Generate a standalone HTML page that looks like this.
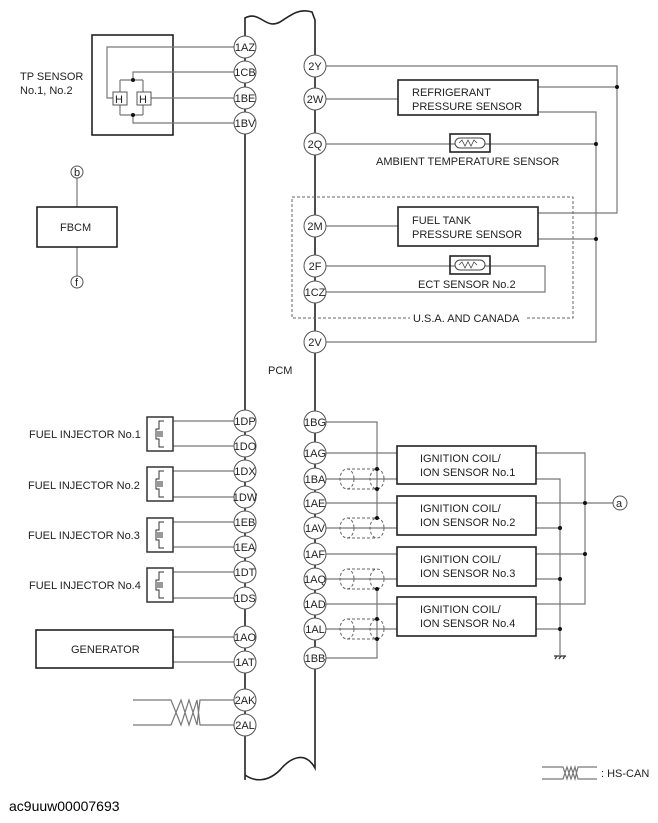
<!DOCTYPE html>
<html><head><meta charset="utf-8"><style>
body{margin:0;background:#fff}
svg{display:block}
text{font-family:"Liberation Sans",Arial,sans-serif;font-size:11px;fill:#222}
.c{fill:#fff;stroke:#555;stroke-width:1}
.ct{font-size:10.5px;text-anchor:middle}
.w{stroke:#777;stroke-width:1.2;fill:none}
.b{stroke:#222;stroke-width:1.6;fill:none}
.d{fill:#111}
</style></head><body>
<svg width="658" height="823" viewBox="0 0 658 823" xmlns="http://www.w3.org/2000/svg">
<!-- PCM buses -->
<path class="b" d="M245,780 L245,18 C260,10 265,30 280,22 C292,14 300,8 312,12 L315,20 L315,768 C305,750 290,758 280,770 C268,782 255,782 245,775"/>
<!-- TP sensor -->
<rect class="b" x="92" y="35" width="81" height="100"/>
<path class="w" d="M234,47 H107 V98 H113 M234,72 H133 V80 M234,98 H150 M234,123 H133 V115 M120,80 H143 M120,115 H143 M120,80 V93 M143,80 V93 M120,105 V115 M143,105 V115"/>
<rect x="113" y="92" width="14" height="13" fill="#fff" stroke="#555"/><text x="115" y="103">H</text>
<rect x="137" y="92" width="14" height="13" fill="#fff" stroke="#555"/><text x="139" y="103">H</text>
<circle class="d" cx="133" cy="80" r="2"/><circle class="d" cx="133" cy="115" r="2"/>
<text x="20" y="80">TP SENSOR</text><text x="20" y="94">No.1, No.2</text>
<!-- FBCM -->
<path class="w" d="M77,178 V207 M77,247 V276"/>
<rect class="b" x="37" y="207" width="80" height="40"/><text x="60" y="231">FBCM</text>
<circle class="c" cx="77" cy="172" r="6"/><text x="74" y="176" font-size="9">b</text>
<circle class="c" cx="77" cy="282" r="6"/><text x="75" y="286" font-size="9">f</text>
<!-- right top wiring -->
<path class="w" d="M326,66 H617 V213 H538 M538,87 H617 M538,112 H596 V342 H326 M326,99 H398 M326,144 H596 M538,239 H596 M326,226 H398 M326,266 H545 V292 H326"/>
<circle class="d" cx="617" cy="87" r="2"/><circle class="d" cx="596" cy="144" r="2"/><circle class="d" cx="596" cy="239" r="2"/>
<rect class="b" x="398" y="80" width="140" height="35" fill="#fff"/>
<text x="412" y="96">REFRIGERANT</text><text x="412" y="110">PRESSURE SENSOR</text>
<rect class="b" x="450" y="134" width="40" height="18" fill="#fff"/><rect x="455" y="138" width="30" height="10" rx="5" fill="#fff" stroke="#444"/>
<path d="M459,143 l3,-3 3,6 3,-6 3,6 3,-6 3,3" stroke="#444" fill="none" stroke-width=".8"/>
<text x="376" y="165">AMBIENT TEMPERATURE SENSOR</text>
<path d="M527,318 H573 V197 H292 V318 H410" stroke="#666" stroke-dasharray="3,2" fill="none"/>
<text x="413" y="322">U.S.A. AND CANADA</text>
<rect class="b" x="398" y="207" width="140" height="39" fill="#fff"/>
<text x="412" y="224">FUEL TANK</text><text x="412" y="238">PRESSURE SENSOR</text>
<rect class="b" x="450" y="256" width="40" height="18" fill="#fff"/><rect x="455" y="260" width="30" height="10" rx="5" fill="#fff" stroke="#444"/>
<path d="M459,265 l3,-3 3,6 3,-6 3,6 3,-6 3,3" stroke="#444" fill="none" stroke-width=".8"/>
<text x="418" y="288">ECT SENSOR No.2</text>
<text x="268" y="374">PCM</text>
<!-- ignition -->
<path class="w" d="M326,422 H377 V518 M326,453 H397 M326,479 H397 M326,503 H397 M326,528 H397 M326,554 H397 M326,579 H397 M326,604 H397 M326,629 H397 M326,658 H377 V589
M536,453 H585 V604 H536 M536,479 H560 V655 M536,503 H614 M536,528 H560 M536,554 H585 M536,579 H560 M536,629 H560"/>
<path d="M554,656 H566 M555,659 l2,-3 M559,659 l2,-3 M563,659 l2,-3" stroke="#333" stroke-width="1.2"/>
<g stroke="#666" fill="none" stroke-dasharray="3,2">
<ellipse cx="347" cy="479" rx="7" ry="10"/><ellipse cx="377" cy="479" rx="7" ry="10"/><path d="M347,469 H377 M347,489 H377"/>
<ellipse cx="347" cy="528" rx="7" ry="10"/><ellipse cx="377" cy="528" rx="7" ry="10"/><path d="M347,518 H377 M347,538 H377"/>
<ellipse cx="347" cy="579" rx="7" ry="10"/><ellipse cx="377" cy="579" rx="7" ry="10"/><path d="M347,569 H377 M347,589 H377"/>
<ellipse cx="347" cy="629" rx="7" ry="10"/><ellipse cx="377" cy="629" rx="7" ry="10"/><path d="M347,619 H377 M347,639 H377"/>
</g>
<g class="d"><circle cx="377" cy="469" r="2"/><circle cx="377" cy="489" r="2"/><circle cx="377" cy="518" r="2"/><circle cx="377" cy="589" r="2"/><circle cx="377" cy="619" r="2"/><circle cx="377" cy="639" r="2"/>
<circle cx="585" cy="503" r="2"/><circle cx="585" cy="554" r="2"/><circle cx="560" cy="528" r="2"/><circle cx="560" cy="579" r="2"/><circle cx="560" cy="629" r="2"/></g>
<rect class="b" x="397" y="446" width="139" height="38" fill="#fff"/><text x="420" y="462">IGNITION COIL/</text><text x="420" y="476">ION SENSOR No.1</text>
<rect class="b" x="397" y="496" width="139" height="39" fill="#fff"/><text x="420" y="512">IGNITION COIL/</text><text x="420" y="526">ION SENSOR No.2</text>
<rect class="b" x="397" y="547" width="139" height="39" fill="#fff"/><text x="420" y="563">IGNITION COIL/</text><text x="420" y="577">ION SENSOR No.3</text>
<rect class="b" x="397" y="597" width="139" height="39" fill="#fff"/><text x="420" y="613">IGNITION COIL/</text><text x="420" y="627">ION SENSOR No.4</text>
<circle class="c" cx="620" cy="503" r="7"/><text x="616" y="507" font-size="10">a</text>
<!-- injectors -->
<path class="w" d="M173,421 H234 M173,446 H234 M173,471 H234 M173,497 H234 M173,522 H234 M173,547 H234 M173,572 H234 M173,598 H234 M173,637 H234 M173,662 H234"/>
<g stroke="#333" fill="none" stroke-width="1">
<rect x="147" y="417" width="26" height="34" stroke-width="1.5"/><path d="M164,421 h-5 v8 h-3 v10 h3 v8 h5 M157,432 h6 M157,434 h6 M157,436 h6"/>
<rect x="147" y="467" width="26" height="34" stroke-width="1.5"/><path d="M164,471 h-5 v8 h-3 v10 h3 v8 h5 M157,482 h6 M157,484 h6 M157,486 h6"/>
<rect x="147" y="518" width="26" height="34" stroke-width="1.5"/><path d="M164,522 h-5 v8 h-3 v10 h3 v8 h5 M157,533 h6 M157,535 h6 M157,537 h6"/>
<rect x="147" y="568" width="26" height="34" stroke-width="1.5"/><path d="M164,572 h-5 v8 h-3 v10 h3 v8 h5 M157,583 h6 M157,585 h6 M157,587 h6"/>
</g>
<text x="29" y="438">FUEL INJECTOR No.1</text>
<text x="28" y="489">FUEL INJECTOR No.2</text>
<text x="28" y="539">FUEL INJECTOR No.3</text>
<text x="29" y="589">FUEL INJECTOR No.4</text>
<rect class="b" x="36" y="630" width="137" height="38"/><text x="71" y="653">GENERATOR</text>
<!-- twisted pair -->
<path class="w" d="M133,700 H171 L181,725 L189,700 L197,725 L200,700 H234 M133,725 H171 L181,700 L189,725 L197,700 L200,725 H234"/>
<path class="w" d="M542,767 H563 L567,779 L571,767 L575,779 L578,767 H597 M542,779 H563 L567,767 L571,779 L575,767 L578,779 H597"/>
<text x="601" y="777" font-size="10">: HS-CAN</text>
<!-- connector circles -->
<g>
<circle class="c" cx="245" cy="47" r="11"/><circle class="c" cx="245" cy="72" r="11"/><circle class="c" cx="245" cy="98" r="11"/><circle class="c" cx="245" cy="123" r="11"/>
<circle class="c" cx="245" cy="421" r="11"/><circle class="c" cx="245" cy="446" r="11"/><circle class="c" cx="245" cy="471" r="11"/><circle class="c" cx="245" cy="497" r="11"/>
<circle class="c" cx="245" cy="522" r="11"/><circle class="c" cx="245" cy="547" r="11"/><circle class="c" cx="245" cy="572" r="11"/><circle class="c" cx="245" cy="598" r="11"/>
<circle class="c" cx="245" cy="637" r="11"/><circle class="c" cx="245" cy="662" r="11"/><circle class="c" cx="245" cy="700" r="11"/><circle class="c" cx="245" cy="725" r="11"/>
<circle class="c" cx="315" cy="66" r="11"/><circle class="c" cx="315" cy="99" r="11"/><circle class="c" cx="315" cy="144" r="11"/><circle class="c" cx="315" cy="226" r="11"/>
<circle class="c" cx="315" cy="266" r="11"/><circle class="c" cx="315" cy="292" r="11"/><circle class="c" cx="315" cy="342" r="11"/>
<circle class="c" cx="315" cy="422" r="11"/><circle class="c" cx="315" cy="453" r="11"/><circle class="c" cx="315" cy="479" r="11"/><circle class="c" cx="315" cy="503" r="11"/>
<circle class="c" cx="315" cy="528" r="11"/><circle class="c" cx="315" cy="554" r="11"/><circle class="c" cx="315" cy="579" r="11"/><circle class="c" cx="315" cy="604" r="11"/>
<circle class="c" cx="315" cy="629" r="11"/><circle class="c" cx="315" cy="658" r="11"/>
</g>
<g class="ct">
<text x="245" y="51">1AZ</text><text x="245" y="76">1CB</text><text x="245" y="102">1BE</text><text x="245" y="127">1BV</text>
<text x="245" y="425">1DP</text><text x="245" y="450">1DO</text><text x="245" y="475">1DX</text><text x="245" y="501">1DW</text>
<text x="245" y="526">1EB</text><text x="245" y="551">1EA</text><text x="245" y="576">1DT</text><text x="245" y="602">1DS</text>
<text x="245" y="641">1AO</text><text x="245" y="666">1AT</text><text x="245" y="704">2AK</text><text x="245" y="729">2AL</text>
<text x="315" y="70">2Y</text><text x="315" y="103">2W</text><text x="315" y="148">2Q</text><text x="315" y="230">2M</text>
<text x="315" y="270">2F</text><text x="315" y="296">1CZ</text><text x="315" y="346">2V</text>
<text x="315" y="426">1BG</text><text x="315" y="457">1AG</text><text x="315" y="483">1BA</text><text x="315" y="507">1AE</text>
<text x="315" y="532">1AV</text><text x="315" y="558">1AF</text><text x="315" y="583">1AQ</text><text x="315" y="608">1AD</text>
<text x="315" y="633">1AL</text><text x="315" y="662">1BB</text>
</g>
<text x="9" y="811" style="font-size:14px;fill:#000">ac9uuw00007693</text>
</svg>
</body></html>
